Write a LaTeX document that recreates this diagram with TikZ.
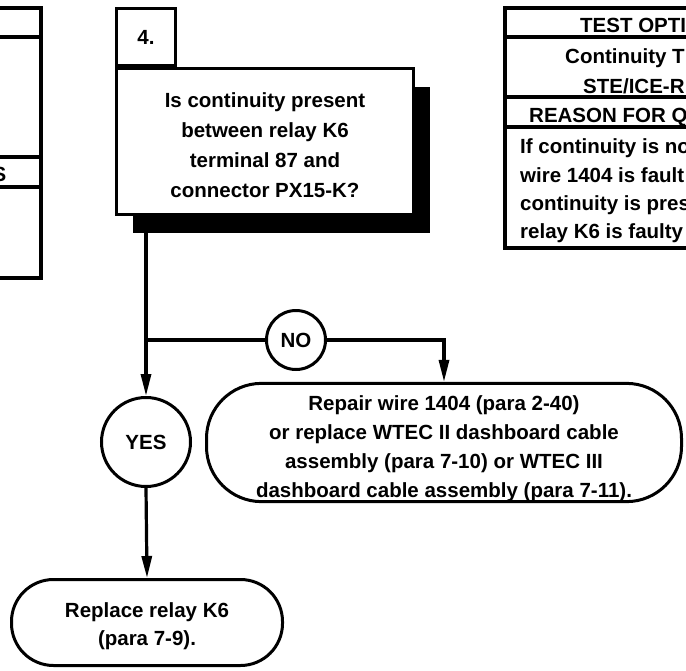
\documentclass[tikz,border=0pt]{standalone}
\usepackage{fontspec}
\setmainfont{Liberation Sans}
\usetikzlibrary{arrows.meta,positioning,shadows}
% strut that pushes a node's first line down
\newcommand{\lowfirst}[1]{\rule{0pt}{#1}}

\begin{document}
\begin{tikzpicture}[
    x=1pt, y=-1pt, >={Triangle[width=10pt,length=22pt]},
    every node/.style={font=\fontsize{20.5}{29}\selectfont\bfseries},
    qbox/.style={rectangle, draw, line width=3.5pt, fill=white, outer sep=0pt,
      minimum width=297pt, minimum height=146pt, align=center,
      font=\fontsize{20.5}{30}\selectfont\bfseries,
      drop shadow={shadow xshift=16pt, shadow yshift=-18pt, fill=black, opacity=1}},
    numbox/.style={rectangle, draw, line width=3.5pt, outer sep=0pt,
      minimum width=59pt, minimum height=57pt},
    answer/.style={circle, draw, line width=3pt, fill=white, inner sep=0pt},
    action/.style={rectangle, draw, line width=3pt, fill=white, align=center, inner ysep=0pt},
    link/.style={->, line width=3.2pt},
    tline/.style={line width=4.5pt},
    cell/.style={anchor=base west, inner sep=0pt}
  ]
  \useasboundingbox (0,0) rectangle (686,670);
  \clip (0,0) rectangle (686,670);
  % neighbouring tables, cut off at the edges
  \draw[tline] (-30,8) rectangle (41,278);
  \foreach \y in {37,157,187} \draw[tline] (-30,\y) -- (41,\y);
  \node[cell, anchor=base east] (lrow) at (6.5,181) {S};
  \draw[tline] (505,8) rectangle (730,248);
  \foreach \y in {37,97,127} \draw[tline] (505,\y) -- (730,\y);
  \node[cell] (thead) at (580,32) {TEST OPTI};
  \node[cell] (tmeth) at (565,63) {Continuity T};
  \node[cell] (tkit) at (583,93) {STE/ICE-R};
  \node[cell] (rhead) at (529,122) {REASON FOR Q};
  \node[cell] (rone) at (520,153) {If continuity is no};
  \node[cell] (rtwo) at (520,182) {wire 1404 is fault};
  \node[cell] (rthree) at (520,210) {continuity is pres};
  \node[cell] (rfour) at (520,238) {relay K6 is faulty};
  % step 4
  \node[qbox] (ask) at (265,141.5) {\lowfirst{22.5pt}Is continuity present\\between relay K6\\terminal 87 and\\connector PX15-K?};
  \node[numbox] (num) at (146,37) {4.};
  \node[answer, minimum size=59pt] (no) at (296,340) {NO};
  \node[answer, minimum size=89pt] (yes) at (146,442) {YES};
  \node[action, rounded corners=55pt, minimum width=475pt, minimum height=118pt] (repair) at (444,442.5)
    {\lowfirst{27pt}Repair wire 1404 (para 2-40)\\or replace WTEC II dashboard cable\\assembly (para 7-10) or WTEC III\\dashboard cable assembly (para 7-11).};
  \node[action, rounded corners=42pt, minimum width=271pt, minimum height=86pt, font=\fontsize{20.5}{28}\selectfont\bfseries] (replace) at (147,622.5)
    {\lowfirst{23pt}Replace relay K6\\(para 7-9).};
  \draw[link] (yes.north |- ask.south) -- (yes.north);
  \draw[line width=3.2pt] (yes.north |- no.west) -- (no.west);
  \draw[link] (no.east) -| (repair.north);
  \draw[link] (yes.south) -- (replace.north);
\end{tikzpicture}
\end{document}
